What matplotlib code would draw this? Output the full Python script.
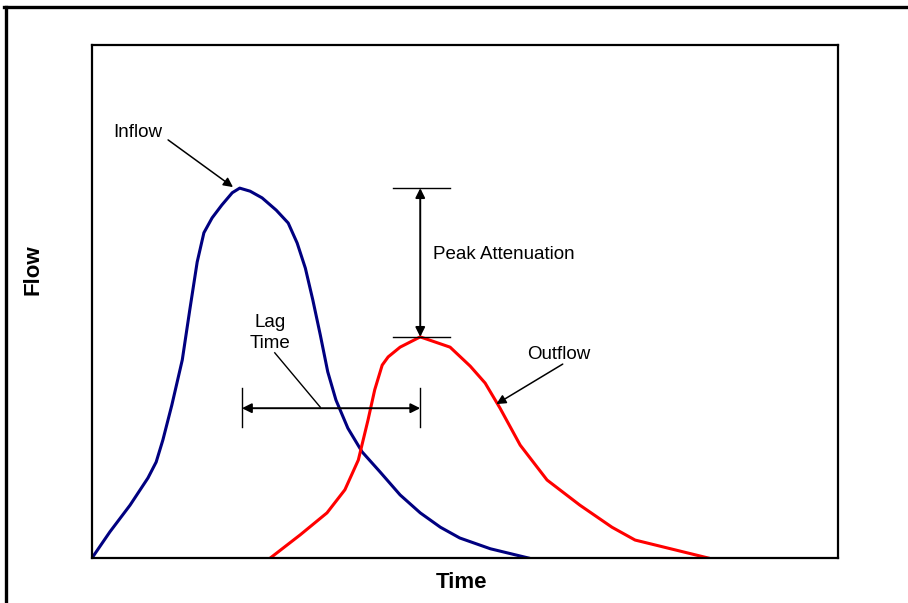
import matplotlib

matplotlib.use("Agg")
import matplotlib.pyplot as plt
from matplotlib.lines import Line2D

plt.rcParams["font.family"] = ["Liberation Sans", "DejaVu Sans"]

# hydrograph values (time and flow on a 0-100 scale)
inflow_t = [0.0, 2.4, 5.1, 7.5, 8.6, 9.5, 10.7, 12.1, 13.1, 14.1, 15.0, 16.1, 17.4,
            18.8, 19.8, 21.2, 22.8, 24.7, 26.3, 27.5, 28.6, 29.6, 30.6, 31.6, 32.7,
            34.3, 36.2, 38.6, 41.3, 44.0, 46.7, 49.3, 53.4, 58.5]
inflow_q = [0.0, 5.1, 10.3, 15.6, 18.7, 23.0, 29.8, 38.6, 48.3, 57.7, 63.4, 66.3, 68.8,
            71.2, 72.1, 71.5, 70.2, 67.8, 65.3, 61.4, 56.5, 50.3, 43.5, 36.3, 30.8,
            25.3, 20.7, 16.8, 12.3, 8.8, 6.0, 3.9, 1.8, 0.0]
outflow_t = [23.9, 27.9, 31.5, 33.9, 35.7, 37.0, 37.9, 38.9, 39.7, 41.3, 44.0, 48.0,
             50.7, 52.7, 54.7, 57.4, 61.0, 65.4, 69.7, 72.8, 82.6]
outflow_q = [0.0, 4.5, 8.8, 13.3, 19.1, 26.9, 32.8, 37.6, 39.2, 41.1, 43.1, 41.1,
             37.4, 34.1, 29.2, 22.0, 15.2, 10.3, 6.0, 3.5, 0.0]

fig = plt.figure(figsize=(9.08, 6.03), dpi=100)
ax = fig.add_axes([92 / 908, 1 - 558 / 603, 746 / 908, 513 / 603])

ax.plot(inflow_t, inflow_q, color="#000080", lw=2.2, solid_joinstyle="round")
ax.plot(outflow_t, outflow_q, color="#ff0000", lw=2.2, solid_joinstyle="round")

ax.set_xlim(0, 100)
ax.set_ylim(0, 100)
ax.set_xticks([])
ax.set_yticks([])
for s in ax.spines.values():
    s.set_linewidth(1.6)

peak_in_t, peak_in_q = 19.8, 72.1
peak_out_t, peak_out_q = 44.0, 43.1
thin = dict(color="black", lw=1.0)
arrow = dict(arrowstyle="-|>", color="black", lw=1.1, mutation_scale=14, shrinkA=0, shrinkB=0)
both = dict(arrowstyle="<|-|>", color="black", lw=1.4, mutation_scale=14, shrinkA=0, shrinkB=0)
fs = 13.5

# peak attenuation
ax.plot([40.3, 48.0], [peak_in_q, peak_in_q], **thin)
ax.plot([40.3, 48.0], [peak_out_q, peak_out_q], **thin)
ax.annotate("", xy=(peak_out_t, peak_out_q), xytext=(peak_out_t, peak_in_q), arrowprops=both)
ax.text(45.7, 59.1, "Peak Attenuation", fontsize=fs, va="center", ha="left")

# lag time
lag_q = 29.2
ax.plot([20.1, 20.1], [25.5, 33.1], **thin)
ax.plot([peak_out_t, peak_out_t], [25.5, 33.1], **thin)
ax.annotate("", xy=(20.1, lag_q), xytext=(peak_out_t, lag_q), arrowprops=both)
ax.plot([24.5, 30.6], [40.0, 29.4], **thin)
ax.text(23.9, 43.8, "Lag\nTime", fontsize=fs, ha="center", va="center", linespacing=1.3)

# curve labels
ax.text(2.8, 83.0, "Inflow", fontsize=fs, va="center", ha="left")
ax.annotate("", xy=(18.9, 72.3), xytext=(10.2, 81.5), arrowprops=arrow)
ax.text(58.3, 39.6, "Outflow", fontsize=fs, va="center", ha="left")
ax.annotate("", xy=(54.2, 30.0), xytext=(63.1, 37.8), arrowprops=arrow)

fig.text(462 / 908, 1 - 583 / 603, "Time", fontsize=16, fontweight="bold", ha="center", va="center")
fig.text(33 / 908, 1 - 270 / 603, "Flow", fontsize=16, fontweight="bold", ha="center", va="center",
         rotation=90)

# outer frame (top and left edges only)
fig.add_artist(Line2D([4 / 908, 1], [1 - 7 / 603, 1 - 7 / 603], color="black", lw=2.4,
                      transform=fig.transFigure))
fig.add_artist(Line2D([6 / 908, 6 / 908], [0, 1 - 7 / 603], color="black", lw=2.4,
                      transform=fig.transFigure))

fig.savefig("out.png", dpi=100)
